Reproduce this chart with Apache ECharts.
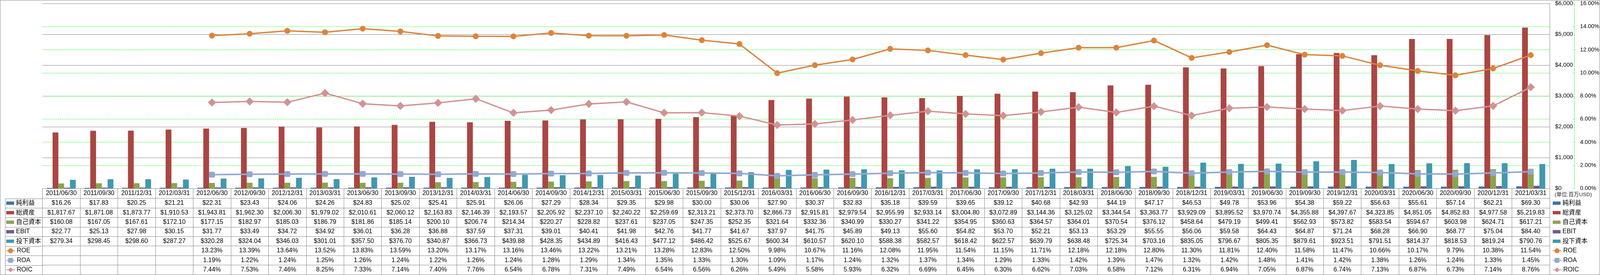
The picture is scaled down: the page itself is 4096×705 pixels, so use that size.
<!DOCTYPE html>
<html><head><meta charset="utf-8">
<script src="https://cdn.jsdelivr.net/npm/echarts@6/dist/echarts.min.js"></script>
<style>html,body{margin:0;padding:0;background:#fff;}#c{width:4096px;height:705px;}</style>
</head><body><div id="c"></div>
<script>
const dates = ['2011/06/30','2011/09/30','2011/12/31','2012/03/31','2012/06/30','2012/09/30','2012/12/31','2013/03/31','2013/06/30','2013/09/30','2013/12/31','2014/03/31','2014/06/30','2014/09/30','2014/12/31','2015/03/31','2015/06/30','2015/09/30','2015/12/31','2016/03/31','2016/06/30','2016/09/30','2016/12/31','2017/03/31','2017/06/30','2017/09/30','2017/12/31','2018/03/31','2018/06/30','2018/09/30','2018/12/31','2019/03/31','2019/06/30','2019/09/30','2019/12/31','2020/03/31','2020/06/30','2020/09/30','2020/12/31','2021/03/31'];
const netIncome = [16.26,17.83,20.25,21.21,22.31,23.43,24.06,24.26,24.83,25.02,25.41,25.91,26.06,27.29,28.34,29.35,29.98,30.00,30.06,27.90,30.37,32.83,35.18,39.59,39.65,39.12,40.68,42.93,44.19,47.17,46.53,49.78,53.96,54.38,59.22,56.63,55.61,57.14,62.21,69.30];
const totalAssets = [1817.67,1871.08,1873.77,1910.53,1943.81,1962.30,2006.30,1979.02,2010.61,2060.12,2163.83,2146.39,2193.57,2205.92,2237.10,2240.22,2259.69,2313.21,2373.70,2866.73,2915.81,2979.54,2955.99,2933.14,3004.80,3072.89,3144.36,3125.02,3344.54,3363.77,3929.09,3895.52,3970.74,4355.88,4397.67,4323.85,4851.05,4852.83,4977.58,5219.83];
const equity = [160.08,167.05,167.61,172.10,177.15,182.97,185.03,186.79,181.86,185.14,200.10,206.74,214.34,220.27,228.82,237.61,237.05,247.35,252.35,321.64,332.36,340.99,330.27,341.22,354.95,360.63,364.57,364.01,370.54,376.12,458.64,479.19,499.41,562.93,573.82,583.54,594.67,603.98,624.71,617.21];
const ebit = [22.77,25.13,27.98,30.15,31.77,33.49,34.72,34.92,36.01,36.28,36.88,37.59,37.31,39.01,40.41,41.98,42.76,41.77,41.67,37.97,41.75,45.89,49.13,55.60,54.82,53.70,52.21,53.13,53.29,55.55,56.06,59.58,64.43,64.87,71.24,68.28,66.90,68.77,75.04,84.40];
const investedCapital = [279.34,298.45,298.60,287.27,320.28,324.04,346.03,301.01,357.50,376.70,340.87,366.73,439.88,428.35,434.89,416.43,477.12,486.42,525.67,600.34,610.57,620.10,588.38,582.57,618.42,622.57,639.79,638.48,725.34,703.16,835.05,796.67,805.35,879.61,923.51,791.51,814.37,818.53,819.24,790.76];
const roe = [null,null,null,null,13.23,13.39,13.64,13.52,13.83,13.59,13.20,13.17,13.16,13.46,13.22,13.21,13.28,12.83,12.50,9.98,10.67,11.16,12.08,11.95,11.54,11.15,11.71,12.18,12.18,12.80,11.30,11.81,12.40,11.58,11.47,10.66,10.17,9.79,10.38,11.54];
const roa = [null,null,null,null,1.19,1.22,1.24,1.25,1.26,1.24,1.22,1.26,1.24,1.28,1.29,1.34,1.35,1.33,1.30,1.09,1.17,1.24,1.32,1.37,1.34,1.29,1.33,1.42,1.39,1.47,1.32,1.42,1.48,1.41,1.42,1.38,1.26,1.24,1.33,1.45];
const roic = [null,null,null,null,7.44,7.53,7.46,8.25,7.33,7.14,7.40,7.76,6.54,6.78,7.31,7.49,6.54,6.56,6.26,5.49,5.58,5.93,6.32,6.69,6.45,6.30,6.62,7.03,6.58,7.12,6.31,6.94,7.05,6.87,6.74,7.13,6.87,6.73,7.14,8.76];
const usdAxis = {min: 0, max: 6000, interval: 1000};
const pctAxis = {min: 0, max: 16, interval: 2};
const unitText = '(単位:百万USD)';

const FONT = "'Liberation Sans','Noto Sans CJK JP',sans-serif";
const GRID_L = 108.6, GRID_R = 3967, GRID_T = 9.2, GRID_B = 483;
const HEADER_H = 25.6, ROW_H = 24.42;
const LINE_C = '#868686';

const usd = v => '$' + v.toLocaleString('en-US', {minimumFractionDigits: 2, maximumFractionDigits: 2});
const pct = v => v.toFixed(2) + '%';

const barDefs = [
  {name: '純利益', data: netIncome, color: '#4572A7'},
  {name: '総資産', data: totalAssets, color: '#AA4643'},
  {name: '自己資本', data: equity, color: '#89A54E'},
  {name: 'EBIT', data: ebit, color: '#71588F'},
  {name: '投下資本', data: investedCapital, color: '#4198AF'}
];
const lineDefs = [
  {name: 'ROE', data: roe, color: '#DB843D', symbol: 'circle', size: 15, width: 3.5},
  {name: 'ROA', data: roa, color: '#93A9CF', symbol: 'roundRect', size: 15, width: 4},
  {name: 'ROIC', data: roic, color: '#D19392', symbol: 'diamond', size: 21, width: 3.5}
];
const tableRows = barDefs.map(d => ({vals: d.data, fmt: usd})).concat(lineDefs.map(d => ({vals: d.data, fmt: pct})));

const labelBase = {color: '#000', fontSize: 16, fontFamily: FONT, interval: 0, verticalAlign: 'middle'};
const xAxes = [{
  type: 'category', data: dates, gridIndex: 0, position: 'bottom', offset: 0,
  axisLine: {show: true, onZero: false, lineStyle: {color: LINE_C, width: 1}},
  axisTick: {show: true, interval: 0, alignWithLabel: false, inside: false, length: HEADER_H, lineStyle: {color: LINE_C, width: 1}},
  axisLabel: Object.assign({}, labelBase, {margin: HEADER_H / 2}),
  splitLine: {show: false}
}];
tableRows.forEach((r, i) => {
  xAxes.push({
    type: 'category', data: dates, gridIndex: 0, position: 'bottom', offset: HEADER_H + i * ROW_H,
    axisLine: {show: true, onZero: false, lineStyle: {color: LINE_C, width: 1}},
    axisTick: {show: true, interval: 0, alignWithLabel: false, inside: false, length: ROW_H, lineStyle: {color: LINE_C, width: 1}},
    axisLabel: Object.assign({}, labelBase, {margin: ROW_H / 2, formatter: (v, idx) => r.vals[idx] == null ? '' : r.fmt(r.vals[idx])}),
    splitLine: {show: false}
  });
});

const series = barDefs.map(d => ({
  name: d.name, type: 'bar', xAxisIndex: 0, yAxisIndex: 0, data: d.data,
  barWidth: 14.8, barGap: '0%', itemStyle: {color: d.color}
})).concat(lineDefs.map(d => ({
  name: d.name, type: 'line', xAxisIndex: 0, yAxisIndex: 1, data: d.data,
  symbol: d.symbol, symbolSize: d.size, showSymbol: true, z: 5,
  lineStyle: {color: d.color, width: d.width}, itemStyle: {color: d.color}
})));

const tableTop = GRID_B + HEADER_H;
const legendCommon = {orient: 'vertical', padding: 0, itemGap: 0, selectedMode: false,
  textStyle: {fontSize: 16, fontFamily: FONT, color: '#000', lineHeight: ROW_H}};
const barNames = barDefs.map(d => d.name), lineNames = lineDefs.map(d => d.name);
const legends = [
  Object.assign({}, legendCommon, {data: barNames, left: 16, top: tableTop, itemWidth: 20, itemHeight: 8.5, icon: 'rect'}),
  Object.assign({}, legendCommon, {data: lineNames, left: 15, top: tableTop + 5 * ROW_H, itemWidth: 22, itemHeight: 16}),
  Object.assign({}, legendCommon, {data: barNames, left: 3975, top: tableTop, itemWidth: 20, itemHeight: 8.5, icon: 'rect'}),
  Object.assign({}, legendCommon, {data: lineNames, left: 3974, top: tableTop + 5 * ROW_H, itemWidth: 22, itemHeight: 16})
];

const graphics = [];
const px = v => Math.round(v) + 0.5;
graphics.push({type: 'rect', shape: {x: 0.5, y: 0.5, width: 4095, height: 704}, style: {fill: 'none', stroke: LINE_C, lineWidth: 1}, silent: true});
for (let k = 0; k <= tableRows.length; k++) {
  const y = px(tableTop + k * ROW_H);
  const x2 = k === tableRows.length ? GRID_R : GRID_L;
  graphics.push({type: 'line', shape: {x1: 13, y1: y, x2: x2, y2: y}, style: {stroke: LINE_C, lineWidth: 1}, silent: true});
}
graphics.push({type: 'line', shape: {x1: 13.5, y1: px(tableTop), x2: 13.5, y2: px(tableTop + tableRows.length * ROW_H)}, style: {stroke: LINE_C, lineWidth: 1}, silent: true});
graphics.push({type: 'text', left: 3980, top: 493, style: {text: unitText, fontSize: 13.5, fontFamily: FONT, fill: '#222'}, silent: true});

const chart = echarts.init(document.getElementById('c'), null, {renderer: 'canvas'});
chart.setOption({
  animation: false,
  backgroundColor: '#fff',
  grid: {left: GRID_L, right: 4096 - GRID_R, top: GRID_T, bottom: 705 - GRID_B, containLabel: false, outerBoundsMode: 'none'},
  legend: legends,
  xAxis: xAxes,
  yAxis: [{
    type: 'value', position: 'right', min: usdAxis.min, max: usdAxis.max, interval: usdAxis.interval,
    axisLine: {show: true, lineStyle: {color: LINE_C, width: 1}},
    axisTick: {show: false},
    axisLabel: {margin: 14, color: '#000', fontSize: 15, fontFamily: FONT, formatter: v => '$' + v.toLocaleString('en-US')},
    splitLine: {show: true, lineStyle: {color: LINE_C, width: 1, type: 'solid'}}
  }, {
    type: 'value', position: 'right', offset: 63, min: pctAxis.min, max: pctAxis.max, interval: pctAxis.interval,
    axisLine: {show: true, lineStyle: {color: '#00FF00', width: 1, type: [3, 2]}},
    axisTick: {show: true, inside: true, length: 3, lineStyle: {color: '#00FF00'}},
    axisLabel: {margin: 15, color: '#000', fontSize: 14.5, fontFamily: FONT, formatter: v => v.toFixed(2) + '%'},
    splitLine: {show: true, showMinLine: false, showMaxLine: false, lineStyle: {color: '#00FF00', width: 1, type: [3, 2]}}
  }],
  series: series,
  graphic: graphics
});
</script></body></html>
